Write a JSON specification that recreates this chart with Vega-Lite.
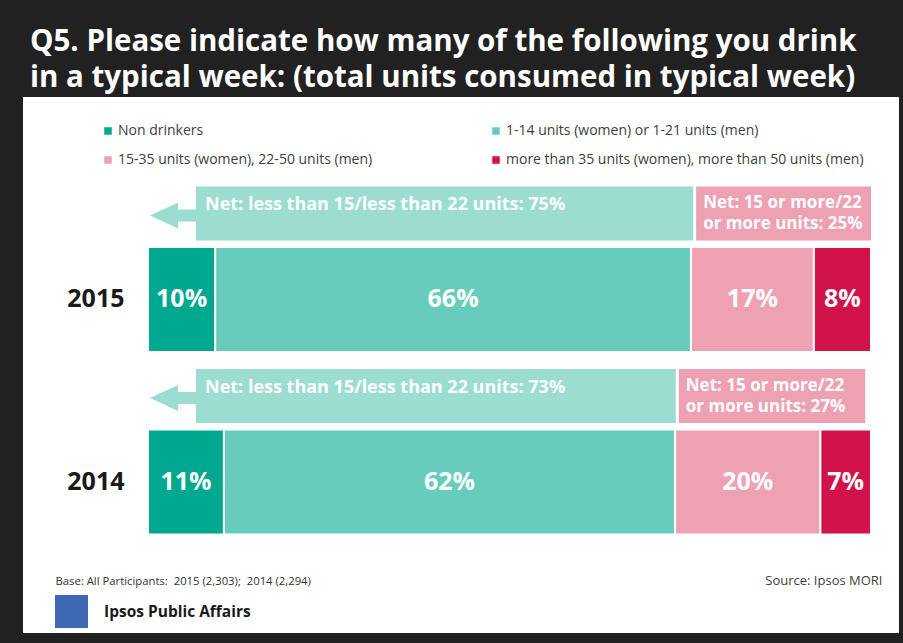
{
  "$schema": "https://vega.github.io/schema/vega-lite/v6.json",
  "width": 903,
  "height": 643,
  "autosize": {"type": "fit", "contains": "padding"},
  "padding": {"left": 23, "top": 26, "right": 4, "bottom": 10},
  "background": "#212121",
  "config": {
    "view": {"fill": "#ffffff", "stroke": null},
    "font": "Open Sans"
  },
  "title": {
    "text": ["Q5. Please indicate how many of the following you drink", "in a typical week: (total units consumed in typical week)"],
    "color": "#ffffff",
    "fontSize": 29.5,
    "fontWeight": "bold",
    "font": "Open Sans",
    "anchor": "start",
    "frame": "group",
    "dx": 7,
    "lineHeight": 36,
    "offset": 4
  },
  "datasets": {
    "segments": [
      {"year": "2015", "category": "Non drinkers", "value": 9.3, "label": "10%"},
      {"year": "2015", "category": "1-14 units (women) or 1-21 units (men)", "value": 65.8, "label": "66%"},
      {"year": "2015", "category": "15-35 units (women), 22-50 units (men)", "value": 17.0, "label": "17%"},
      {"year": "2015", "category": "more than 35 units (women), more than 50 units (men)", "value": 7.9, "label": "8%"},
      {"year": "2014", "category": "Non drinkers", "value": 10.5, "label": "11%"},
      {"year": "2014", "category": "1-14 units (women) or 1-21 units (men)", "value": 62.4, "label": "62%"},
      {"year": "2014", "category": "15-35 units (women), 22-50 units (men)", "value": 20.1, "label": "20%"},
      {"year": "2014", "category": "more than 35 units (women), more than 50 units (men)", "value": 7.0, "label": "7%"}
    ],
    "nets": [
      {"year": "2015", "kind": "less", "value": 75.4, "label": "Net: less than 15/less than 22 units: 75%", "org": "Ipsos Public Affairs"},
      {"year": "2015", "kind": "more", "value": 24.6, "label": "Net: 15 or more/22\nor more units: 25%", "org": "Ipsos Public Affairs"},
      {"year": "2014", "kind": "less", "value": 73.0, "label": "Net: less than 15/less than 22 units: 73%", "org": "Ipsos Public Affairs"},
      {"year": "2014", "kind": "more", "value": 26.2, "label": "Net: 15 or more/22\nor more units: 27%", "org": "Ipsos Public Affairs"}
    ]
  },
  "layer": [
    {
      "data": {"name": "segments"},
      "transform": [
        {"stack": "value", "groupby": ["year"], "as": ["v0", "v1"]}
      ],
      "mark": {"type": "bar", "height": 105, "stroke": "#ffffff", "strokeWidth": 2},
      "encoding": {
        "x": {
          "field": "v0", "type": "quantitative",
          "scale": {"domain": [-17.289, 103.873], "nice": false, "zero": false},
          "axis": {
            "title": "Base: All Participants:\u00a0 2015 (2,303);\u00a0 2014 (2,294)",
            "titleX": 32, "titleY": -52, "titleAlign": "left",
            "titleBaseline": "middle", "titleFontSize": 11.3, "titleFontWeight": "normal",
            "titleColor": "#333333", "labels": false, "ticks": false, "domain": false, "grid": false
          }
        },
        "x2": {"field": "v1"},
        "y": {
          "field": "year", "type": "nominal",
          "scale": {"domain": ["2015", "2014"], "paddingInner": 0, "paddingOuter": 0.4685, "align": 0.65},
          "axis": {
            "title": "Source: Ipsos MORI", "titleAngle": 0, "titleX": 758, "titleY": 483,
            "titleAlign": "right", "titleBaseline": "middle", "titleFontSize": 13,
            "titleFontWeight": "normal", "titleColor": "#404040",
            "labelFontSize": 25, "labelFontWeight": "bold", "labelColor": "#1a1a1a",
            "domain": false, "ticks": false, "labelPadding": 0, "offset": -101, "grid": false
          }
        },
        "color": {
          "field": "category", "type": "nominal",
          "scale": {
            "domain": ["Non drinkers", "1-14 units (women) or 1-21 units (men)", "15-35 units (women), 22-50 units (men)", "more than 35 units (women), more than 50 units (men)"],
            "range": ["#00A88F", "#66CDBC", "#EDA1B2", "#D2134B"]
          },
          "legend": {
            "orient": "none", "legendX": 78, "legendY": 27, "columns": 2, "direction": "horizontal",
            "gridAlign": "all", "columnPadding": 13, "rowPadding": 15, "title": null, "symbolType": "square",
            "symbolSize": 56, "symbolStrokeWidth": 0, "labelFontSize": 14, "labelColor": "#404040",
            "labelOffset": 3, "padding": 0, "labelLimit": 500
          }
        }
      }
    },
    {
      "data": {"name": "segments"},
      "transform": [
        {"stack": "value", "groupby": ["year"], "as": ["v0", "v1"]},
        {"calculate": "(datum.v0 + datum.v1) / 2", "as": "mid"}
      ],
      "mark": {"type": "text", "color": "#ffffff", "fontSize": 25, "fontWeight": "bold", "baseline": "middle", "align": "center"},
      "encoding": {
        "x": {"field": "mid", "type": "quantitative"},
        "y": {"field": "year", "type": "nominal"},
        "text": {"field": "label"}
      }
    },
    {
      "data": {"name": "nets"},
      "transform": [
        {"stack": "value", "groupby": ["year"], "as": ["n0", "n1"]},
        {"filter": "datum.kind === 'less'"}
      ],
      "mark": {"type": "bar", "color": "#9BDDD0", "height": 54, "yOffset": -86, "xOffset": 48},
      "encoding": {
        "x": {"field": "n0", "type": "quantitative"},
        "x2": {"field": "n1"},
        "y": {"field": "year", "type": "nominal"}
      }
    },
    {
      "data": {"name": "nets"},
      "transform": [
        {"stack": "value", "groupby": ["year"], "as": ["n0", "n1"]},
        {"filter": "datum.kind === 'more'"}
      ],
      "mark": {"type": "bar", "color": "#EDA1B2", "height": 54, "yOffset": -86, "xOffset": 3},
      "encoding": {
        "x": {"field": "n0", "type": "quantitative"},
        "x2": {"field": "n1"},
        "y": {"field": "year", "type": "nominal"}
      }
    },
    {
      "data": {"name": "nets"},
      "transform": [
        {"stack": "value", "groupby": ["year"], "as": ["n0", "n1"]},
        {"filter": "datum.kind === 'less'"}
      ],
      "mark": {
        "type": "point", "filled": true, "color": "#9BDDD0", "opacity": 1, "size": 2116, "yOffset": -84, "xOffset": 25,
        "shape": "M-1,0L0.217,-0.565L0.217,-0.26L1,-0.26L1,0.26L0.217,0.26L0.217,0.565Z"
      },
      "encoding": {
        "x": {"field": "n0", "type": "quantitative"},
        "y": {"field": "year", "type": "nominal"}
      }
    },
    {
      "data": {"name": "nets"},
      "transform": [
        {"filter": "datum.kind === 'logo'"}
      ],
      "mark": {"type": "square", "size": 1089},
      "encoding": {
        "x": {"field": "value", "type": "quantitative"},
        "y": {"field": "year", "type": "nominal"},
        "fill": {
          "field": "org", "type": "nominal",
          "scale": {"domain": ["Ipsos Public Affairs"], "range": ["#3F68B2"]},
          "legend": {
            "orient": "none", "legendX": 32, "legendY": 498, "title": null, "padding": 0,
            "symbolType": "square", "symbolSize": 1089, "symbolStrokeWidth": 0, "symbolOpacity": 1,
            "labelFontSize": 15.5, "labelFontWeight": "bold", "labelColor": "#1a1a1a",
            "labelOffset": 16
          }
        }
      }
    },
    {
      "data": {"name": "nets"},
      "transform": [
        {"stack": "value", "groupby": ["year"], "as": ["n0", "n1"]},
        {"filter": "datum.kind === 'less'"}
      ],
      "mark": {"type": "text", "color": "#ffffff", "fontSize": 18, "fontWeight": "bold", "align": "left", "baseline": "top", "dx": 57, "yOffset": -103},
      "encoding": {
        "x": {"field": "n0", "type": "quantitative"},
        "y": {"field": "year", "type": "nominal"},
        "text": {"field": "label"}
      }
    },
    {
      "data": {"name": "nets"},
      "transform": [
        {"stack": "value", "groupby": ["year"], "as": ["n0", "n1"]},
        {"filter": "datum.kind === 'more'"}
      ],
      "mark": {"type": "text", "color": "#ffffff", "fontSize": 17, "fontWeight": "bold", "align": "left", "baseline": "top", "dx": 10, "yOffset": -104, "lineBreak": "\n", "lineHeight": 21},
      "encoding": {
        "x": {"field": "n0", "type": "quantitative"},
        "y": {"field": "year", "type": "nominal"},
        "text": {"field": "label"}
      }
    }
  ]
}
